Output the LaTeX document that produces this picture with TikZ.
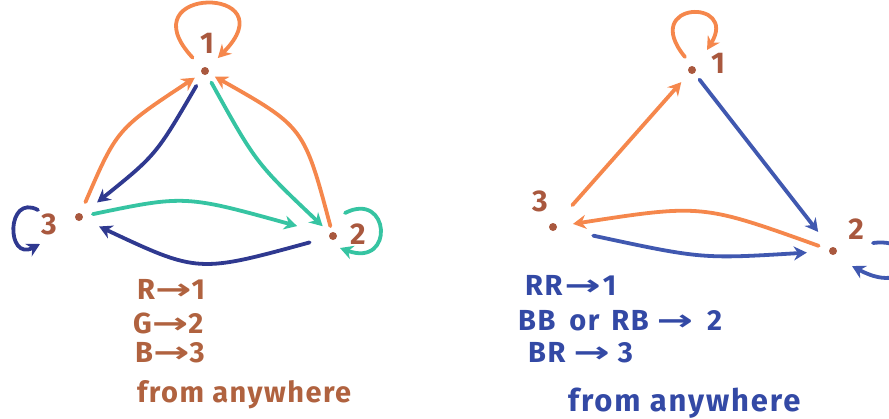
\documentclass[tikz,border=0pt]{standalone}
\usepackage{fontspec}
\setmainfont{Fira Sans}
\newfontfamily\arrowfont{DejaVu Sans}
\usetikzlibrary{arrows.meta}
\definecolor{mkorange}{HTML}{F5874C}
\definecolor{mkteal}{HTML}{36C4A2}
\definecolor{mknavy}{HTML}{2F3990}
\definecolor{mkblue}{HTML}{4058B0}
\definecolor{dotbrown}{HTML}{A9583E}
\definecolor{txtbrown}{HTML}{B0623F}
\definecolor{txtblue}{HTML}{3349A5}
\newcommand\goesto{{\arrowfont\bfseries\scalebox{1.5}[1]{→}}}
\tikzset{
  dot/.style={circle,fill=dotbrown,inner sep=0pt,minimum size=8pt},
  num/.style={text=dotbrown,font=\bfseries\fontsize{30}{30}\selectfont,inner sep=1pt},
  pen/.style={line width=3.8pt,line cap=round,-{Stealth[length=13pt,width=14pt]}},
  rulez/.style={anchor=base west,inner sep=0pt,font=\bfseries\fontsize{29}{29}\selectfont\addfontfeature{LetterSpace=5}}
}
\begin{document}
\begin{tikzpicture}[x=1pt,y=-1pt]
\useasboundingbox (0,0) rectangle (889,418);
% left: one colour, one move
\node[dot] (l1) at (205,71) {};
\node[dot] (l2) at (333,236) {};
\node[dot] (l3) at (79,217) {};
\node[num] (l1n) at (207,43) {1};
\node[num] (l2n) at (358,234) {2};
\node[num] (l3n) at (49,224) {3};
\draw[pen,mkorange,shorten <=12pt,shorten >=8pt] (l3) .. controls (117,129) .. (l1);
\draw[pen,mknavy,shorten <=13pt,shorten >=19pt] (l1) .. controls (156,155) .. (l3);
\draw[pen,mkteal,shorten <=9pt,shorten >=10pt] (l1) .. controls (256,163) .. (l2);
\draw[pen,mkorange,shorten <=6pt,shorten >=7pt] (l2) .. controls (304,127) .. (l1);
\draw[pen,mkteal,shorten <=10pt,shorten >=33pt] (l3) .. controls (185,195) .. (l2);
\draw[pen,mknavy,shorten <=20pt,shorten >=18pt] (l2) .. controls (198,273) .. (l3);
\draw[pen,mkorange,shorten <=14pt,shorten >=14pt] (l1) .. controls (125,-15) and (290,-15) .. (l1);
\draw[pen,mknavy] ([shift={(-11,-14)}]l3n.center) .. controls +(-32,-17) and +(-34,18) .. ([shift={(-9,20)}]l3n.center);
\draw[pen,mkteal] ([shift={(-13,-21)}]l2n.center) .. controls +(45,-23) and +(55,20) .. ([shift={(-18,14)}]l2n.center);
\node[rulez,text=txtbrown] (lr1) at (137,299) {R\goesto1};
\node[rulez,text=txtbrown] (lr2) at (133,333) {G\goesto2};
\node[rulez,text=txtbrown] (lr3) at (135,362) {B\goesto3};
\node[rulez,text=txtbrown] (lfrom) at (137,402) {from anywhere};
% right: two colours in a row
\node[dot] (r1) at (692,70) {};
\node[dot] (r2) at (833,251) {};
\node[dot] (r3) at (553,227) {};
\node[num] (r1n) at (718,63) {1};
\node[num] (r2n) at (856,229) {2};
\node[num] (r3n) at (540,201) {3};
\draw[pen,mkorange,shorten <=25pt,shorten >=12pt] (r3) -- (r1);
\draw[pen,mkblue,shorten <=8pt,shorten >=20pt] (r1) -- (r2);
\draw[pen,mkorange,shorten <=11pt,shorten >=16pt] (r2) .. controls (702,204) .. (r3);
\draw[pen,mkblue,shorten <=37pt,shorten >=22pt] (r3) .. controls (702,259) .. (r2);
\draw[pen,mkorange] ([shift={(-7,-13)}]r1.center) .. controls +(-46,-56) and +(32,-52) .. ([shift={(15,-20)}]r1.center);
\draw[pen,mkblue] ([shift={(40,-8)}]r2.center) .. controls +(52,-7) and +(63,34) .. ([shift={(19,15)}]r2.center);
\node[rulez,text=txtblue] (rr1) at (525,295) {RR\hspace{2pt}\goesto\hspace{2pt}1};
\node[rulez,text=txtblue] (rr2) at (518,330) {BB\hspace{14pt}or\hspace{12pt}RB\hspace{8pt}\goesto\hspace{14pt}2};
\node[rulez,text=txtblue] (rr3) at (528,362) {BR\hspace{8pt}\goesto\hspace{8pt}3};
\node[rulez,text=txtblue,font=\bfseries\fontsize{31}{31}\selectfont\addfontfeature{LetterSpace=6}] (rfrom) at (568,411) {from anywhere};
\end{tikzpicture}
\end{document}
